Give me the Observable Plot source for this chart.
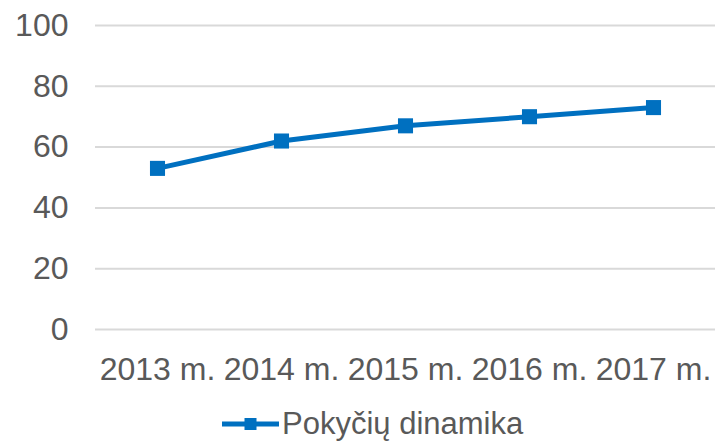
<!DOCTYPE html>
<html>
<head>
<meta charset="utf-8">
<script src="https://cdn.jsdelivr.net/npm/d3@7"></script>
<script src="https://cdn.jsdelivr.net/npm/@observablehq/plot@0.6"></script>
<style>
  html, body { margin: 0; padding: 0; background: #fff; }
  body { width: 715px; height: 443px; overflow: hidden; font-family: "Liberation Sans", Arial, sans-serif; }
  #chart { position: relative; width: 715px; height: 443px; }
  #legend { position: absolute; left: 222px; top: 408px; display: flex; align-items: center; color: #595959; font-size: 31px; line-height: 31px; }
  #legend span { margin-left: 3px; }
</style>
</head>
<body>
<div id="chart"></div>
<script>
const years = ["2013 m.", "2014 m.", "2015 m.", "2016 m.", "2017 m."];
const values = [53, 62, 67, 70, 73];
const yTicks = [0, 20, 40, 60, 80, 100];
const seriesName = "Pokyčių dinamika";
const color = "#0070C0";

const data = years.map((y, i) => ({year: y, value: values[i]}));

const plot = Plot.plot({
  width: 715,
  height: 395,
  marginLeft: 95,
  marginRight: 0,
  marginTop: 25,
  marginBottom: 66,
  style: {fontFamily: '"Liberation Sans", Arial, sans-serif', fontSize: "32px", color: "#595959", background: "#fff"},
  x: {type: "point", domain: years, padding: 0.5, label: null},
  y: {domain: [0, 100], label: null},
  marks: [
    Plot.gridY(yTicks, {stroke: "#d9d9d9", strokeOpacity: 1, strokeWidth: 2}),
    Plot.axisY(yTicks, {tickSize: 0, tickPadding: 27, fill: "#595959", label: null}),
    Plot.axisX({tickSize: 0, tickPadding: 28, fill: "#595959", label: null}),
    Plot.line(data, {x: "year", y: "value", stroke: color, strokeWidth: 5}),
    Plot.dot(data, {x: "year", y: "value", symbol: "square", r: 8.5, fill: color, stroke: "none"})
  ]
});

const chart = document.getElementById("chart");
chart.appendChild(plot);

const legend = document.createElement("div");
legend.id = "legend";
legend.innerHTML = `<svg width="57" height="20"><line x1="0" y1="10" x2="57" y2="10" stroke="${color}" stroke-width="5"/><rect x="22.5" y="4" width="12" height="12" fill="${color}"/></svg><span>${seriesName}</span>`;
chart.appendChild(legend);
</script>
</body>
</html>
